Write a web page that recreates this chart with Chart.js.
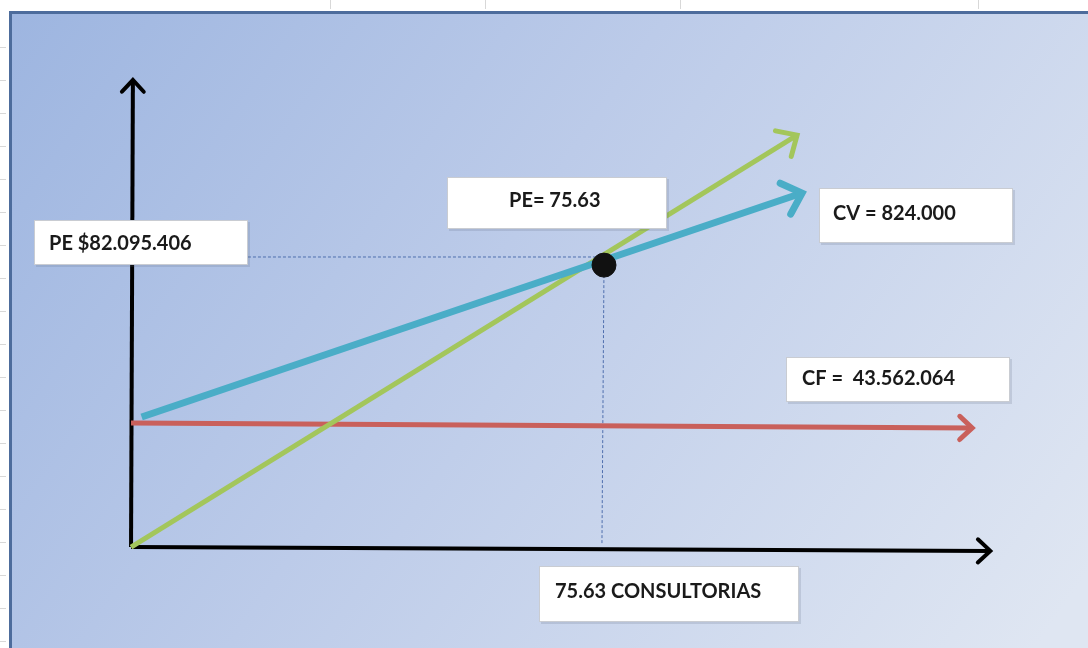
<!DOCTYPE html>
<html>
<head>
<meta charset="utf-8">
<script src="https://cdn.jsdelivr.net/npm/chart.js@4"></script>
<style>
  html, body { margin: 0; padding: 0; background: #ffffff; }
  #grafico { display: block; }
</style>
</head>
<body>
<canvas id="grafico" width="1088" height="648"></canvas>
<script>
// valores (x = consultorias, y = millones de $)
var ventasX = [0, 106.5];
var ventasY = [0, 116.6];
var costoVarX = [1.7, 107.3];
var costoVarY = [36.8, 100.2];
var costoFijoX = [0, 134.5];
var costoFijoY = [35.1, 33.7];
var ejeHorizX = [0, 137.4];
var ejeHorizY = [0, -1.1];
var ejeVertX = [0, 0.3];
var ejeVertY = [0, 132.2];
var puntoEq = [75.63, 79.8];
var guiaHorizX = [18.7, 75.63];
var guiaHorizY = [82.1, 82.1];
var guiaVertX = [75.63, 75.3];
var guiaVertY = [79.8, 0.6];

var etiquetas = ['PE $82.095.406', 'PE= 75.63', 'CV = 824.000', 'CF =  43.562.064', '75.63 CONSULTORIAS'];

function puntos(xs, ys) {
  var out = [];
  for (var i = 0; i < xs.length; i++) {
    out.push({ x: xs[i], y: ys[i] });
  }
  return out;
}

function linea(xs, ys, color, ancho, orden, flecha) {
  return {
    data: puntos(xs, ys),
    showLine: true,
    borderColor: color,
    backgroundColor: color,
    borderWidth: ancho,
    pointRadius: 0,
    borderCapStyle: 'butt',
    order: orden,
    flecha: flecha
  };
}

// fondo tipo Excel con degradado
var fondoPlugin = {
  id: 'fondo',
  beforeDraw: function (chart) {
    var ctx = chart.ctx;
    ctx.save();
    ctx.fillStyle = '#ffffff';
    ctx.fillRect(0, 0, chart.width, chart.height);
    // rayitas de la hoja
    ctx.strokeStyle = '#d8d8d8';
    ctx.lineWidth = 1;
    [330, 485, 680, 978].forEach(function (x) {
      ctx.beginPath(); ctx.moveTo(x + 0.5, 0); ctx.lineTo(x + 0.5, 9); ctx.stroke();
    });
    for (var y = 47; y < chart.height; y += 33) {
      ctx.beginPath(); ctx.moveTo(0, y + 0.5); ctx.lineTo(6, y + 0.5); ctx.stroke();
    }
    var g = ctx.createLinearGradient(9, 11, 1000, 700);
    g.addColorStop(0, '#9db5e0');
    g.addColorStop(0.45, '#bccbe9');
    g.addColorStop(1, '#dfe6f2');
    ctx.fillStyle = g;
    ctx.fillRect(9, 11, chart.width - 9, chart.height - 11);
    ctx.strokeStyle = '#4d6c9c';
    ctx.lineWidth = 3;
    ctx.beginPath();
    ctx.moveTo(10.5, chart.height);
    ctx.lineTo(10.5, 12.5);
    ctx.lineTo(chart.width, 12.5);
    ctx.stroke();
    ctx.restore();
  }
};

// punta de flecha al final de cada linea
var flechaPlugin = {
  id: 'flechas',
  afterDatasetDraw: function (chart, args) {
    var ds = chart.data.datasets[args.index];
    if (!ds.flecha) return;
    var pts = args.meta.data;
    var a = pts[pts.length - 2], b = pts[pts.length - 1];
    var ang = Math.atan2(b.y - a.y, b.x - a.x);
    var largo = ds.flecha;
    var ctx = chart.ctx;
    ctx.save();
    ctx.strokeStyle = ds.borderColor;
    ctx.lineWidth = ds.borderWidth;
    ctx.lineCap = 'round';
    ctx.lineJoin = 'miter';
    ctx.beginPath();
    ctx.moveTo(b.x - largo * Math.cos(ang - 0.75), b.y - largo * Math.sin(ang - 0.75));
    ctx.lineTo(b.x, b.y);
    ctx.lineTo(b.x - largo * Math.cos(ang + 0.75), b.y - largo * Math.sin(ang + 0.75));
    ctx.stroke();
    ctx.restore();
  }
};

// cuadros de texto
var cuadros = [
  { t: etiquetas[0], x: 34, y: 220, w: 214, h: 45, tx: 49, ty: 244 },
  { t: etiquetas[1], x: 447, y: 177, w: 220, h: 52, tx: 509, ty: 201 },
  { t: etiquetas[2], x: 819, y: 188, w: 194, h: 55, tx: 833, ty: 214 },
  { t: etiquetas[3], x: 786, y: 357, w: 224, h: 45, tx: 802, ty: 379 },
  { t: etiquetas[4], x: 539, y: 566, w: 260, h: 56, tx: 555, ty: 592 }
];

var textoPlugin = {
  id: 'textos',
  afterDraw: function (chart) {
    var ctx = chart.ctx;
    ctx.save();
    cuadros.forEach(function (c) {
      ctx.fillStyle = 'rgba(90,100,120,0.18)';
      ctx.fillRect(c.x + 2, c.y + 2, c.w, c.h);
      ctx.fillStyle = '#ffffff';
      ctx.fillRect(c.x, c.y, c.w, c.h);
      ctx.strokeStyle = '#c9ccd2';
      ctx.lineWidth = 1;
      ctx.strokeRect(c.x + 0.5, c.y + 0.5, c.w - 1, c.h - 1);
      ctx.fillStyle = '#1a1a1a';
      ctx.font = 'bold 20px Lato, "Open Sans", sans-serif';
      ctx.textBaseline = 'middle';
      ctx.fillText(c.t, c.tx, c.ty);
    });
    ctx.restore();
  }
};

var datasets = [
  {
    data: puntos([puntoEq[0]], [puntoEq[1]]),
    pointRadius: 12,
    pointBackgroundColor: '#111111',
    pointBorderColor: '#111111',
    order: 0
  },
  linea(costoVarX, costoVarY, '#4aadc7', 7, 1, 24),
  linea(ventasX, ventasY, '#a3c65b', 5, 2, 22),
  linea(costoFijoX, costoFijoY, '#c9605b', 5, 3, 17),
  linea(ejeVertX, ejeVertY, '#000000', 4, 4, 16),
  linea(ejeHorizX, ejeHorizY, '#000000', 4, 5, 17),
  {
    data: puntos(guiaHorizX, guiaHorizY),
    showLine: true, borderColor: '#4f6fae', borderWidth: 1,
    borderDash: [3, 2], pointRadius: 0, order: 6
  },
  {
    data: puntos(guiaVertX, guiaVertY),
    showLine: true, borderColor: '#4f6fae', borderWidth: 1,
    borderDash: [3, 2], pointRadius: 0, order: 6
  }
];

var grafico = new Chart(document.getElementById('grafico'), {
  type: 'scatter',
  data: { datasets: datasets },
  options: {
    responsive: false,
    animation: false,
    devicePixelRatio: 1,
    layout: { padding: 0, autoPadding: false },
    plugins: {
      legend: { display: false },
      tooltip: { enabled: false }
    },
    scales: {
      x: { type: 'linear', min: -20.95, max: 153.02, display: false },
      y: { type: 'linear', min: -28.59, max: 154.85, display: false }
    }
  },
  plugins: [fondoPlugin, flechaPlugin, textoPlugin]
});
</script>
</body>
</html>
